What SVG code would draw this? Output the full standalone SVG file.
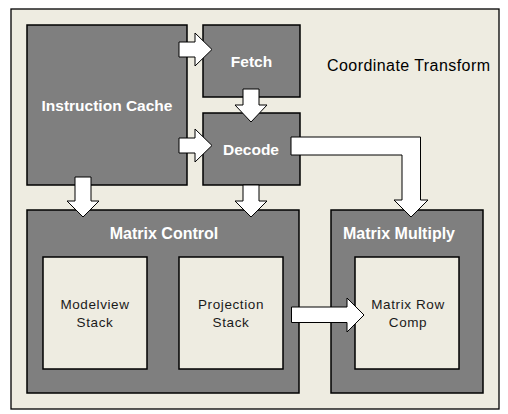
<svg xmlns="http://www.w3.org/2000/svg" width="508" height="414" viewBox="0 0 508 414">
<style>
.bg{fill:#EEECE1;stroke:#000;stroke-width:1.3}
.dk{fill:#7F7F7F;stroke:#000;stroke-width:1.5}
.lt{fill:#EEECE1;stroke:#000;stroke-width:1.5}
.ar{fill:#FFFFFF;stroke:#000;stroke-width:1;stroke-linejoin:miter}
.wt{font-family:"Liberation Sans",Arial,sans-serif;font-weight:bold;fill:#FFFFFF;text-anchor:middle}
.bk{font-family:"Liberation Sans",Arial,sans-serif;fill:#1A1A1A;text-anchor:middle;font-size:13.5px;letter-spacing:0.6px}
</style>
<rect class="bg" x="11" y="9" width="488" height="400"/>
<text x="327" y="71" font-family="Liberation Sans, Arial, sans-serif" font-size="16" fill="#000" textLength="163">Coordinate Transform</text>
<g id="instruction-cache">
<rect class="dk" x="27" y="25" width="160" height="160"/>
<text class="wt" x="107" y="110.5" font-size="15.5">Instruction Cache</text>
</g>
<g id="fetch">
<rect class="dk" x="203" y="25" width="97" height="72"/>
<text class="wt" x="251.5" y="66.5" font-size="15.5">Fetch</text>
</g>
<g id="decode">
<rect class="dk" x="203" y="113" width="97" height="72"/>
<text class="wt" x="251" y="155" font-size="15.5">Decode</text>
</g>
<g id="matrix-control">
<rect class="dk" x="27" y="210" width="272" height="183"/>
<text class="wt" x="164" y="239" font-size="16">Matrix Control</text>
</g>
<g id="matrix-multiply">
<rect class="dk" x="331" y="210" width="152" height="183"/>
<text class="wt" x="399" y="239" font-size="16">Matrix Multiply</text>
</g>
<g id="modelview-stack">
<rect class="lt" x="43" y="257" width="104" height="112"/>
<text class="bk" x="95" y="309">Modelview</text>
<text class="bk" x="95" y="327">Stack</text>
</g>
<g id="projection-stack">
<rect class="lt" x="179" y="257" width="104" height="112"/>
<text class="bk" x="231" y="309">Projection</text>
<text class="bk" x="231" y="327">Stack</text>
</g>
<g id="matrix-row-comp">
<rect class="lt" x="355" y="257" width="104" height="112"/>
<text class="bk" x="408" y="309">Matrix Row</text>
<text class="bk" x="408" y="327">Comp</text>
</g>
<g id="connectors">
<polygon class="ar" points="179,42 195,42 195,33 212,49.5 195,66 195,57 179,57"/>
<polygon class="ar" points="179,138 195,138 195,129 212,145.5 195,162 195,153 179,153"/>
<polygon class="ar" points="243,89 259,89 259,105 267,105 251,122 235,105 243,105"/>
<polygon class="ar" points="75,177 91,177 91,201 99,201 83,217 67,201 75,201"/>
<polygon class="ar" points="243,185 259,185 259,201 267,201 251,217 235,201 243,201"/>
<polygon class="ar" points="291,137 420.5,137 420.5,200 428,200 411,217 394,200 402,200 402,155 291,155"/>
<polygon class="ar" points="291.5,307 347,307 347,298 364,315 347,332 347,322.5 291.5,322.5"/>
</g>
</svg>
